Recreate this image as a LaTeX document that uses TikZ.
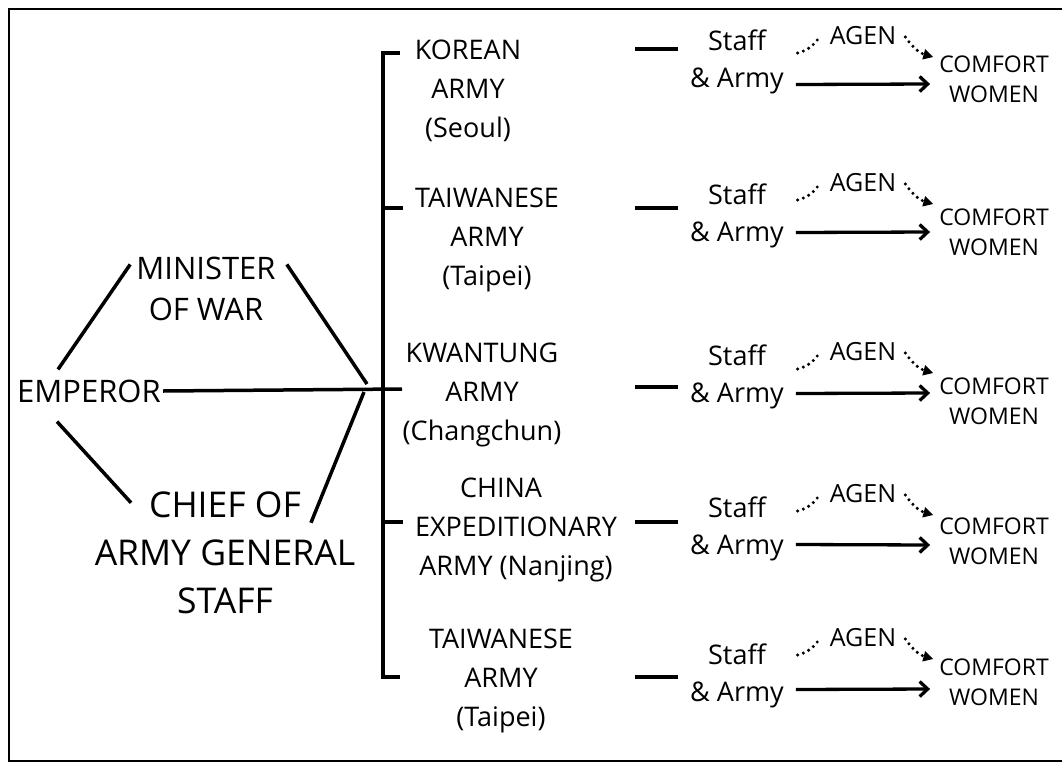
\documentclass[tikz,border=0pt]{standalone}
\usepackage{fontspec}
\setmainfont{Open Sans}
\usetikzlibrary{arrows.meta,calc}
\newcommand\szEmp{\fontsize{31}{41}\selectfont}
\newcommand\szChief{\fontsize{35.5}{48}\selectfont}
\newcommand\szArmy{\fontsize{27}{39}\selectfont}
\newcommand\szStaff{\fontsize{27}{37}\selectfont}
\newcommand\szAgen{\fontsize{25}{30}\selectfont}
\newcommand\szCW{\fontsize{23}{29.5}\selectfont}
\begin{document}
\begin{tikzpicture}[x=1pt,y=-1pt,
  lbl/.style={inner sep=0pt, align=center, text=black},
  conn/.style={line width=3.5pt},
  frameline/.style={line width=2.6pt},
  arr/.style={line width=3.3pt, -{Straight Barb[length=8pt,width=15pt,line width=3.3pt]}},
  dots/.style={line width=3.4pt, line cap=round, dash pattern=on 0pt off 6pt},
  dotarr/.style={dots, -{Triangle[length=10pt,width=10pt]}}]
\useasboundingbox (0,0) rectangle (1062,763);
% frame
\draw[frameline] (1070,9) -- (9,9) -- (9,761) -- (1070,761);

% left part
\node[lbl,font=\szEmp] (emperor) at (89,391) {EMPEROR};
\node[lbl,font=\szEmp] (minister) at (206,288.5) {MINISTER\\OF WAR};
\node[lbl,font=\szChief] (chief) at (225,553) {CHIEF OF\\ARMY GENERAL\\STAFF};

\coordinate (hub) at (383,389);
\coordinate (bt) at (383,53);
\coordinate (b2) at (383,208);
\coordinate (b4) at (383,522);
\coordinate (bb) at (383,677);

\draw[conn] ([shift={(-31,-10)}]emperor.north) -- ([shift={(-6,8)}]minister.north west);
\draw[conn] ([shift={(-32,19)}]emperor.south) -- ([shift={(36.5,11)}]chief.north west);
\draw[conn] ([shift={(11,8)}]minister.north east) -- ([shift={(-16,-5)}]hub);
\draw[conn] ([shift={(-44.5,31)}]chief.north east) -- ([shift={(-19,3)}]hub);
\draw[conn] ([xshift=2pt]emperor.east) -- ([xshift=19pt]hub);

% bracket
\draw[conn] ([xshift=17pt]bt) -- (bt) -- (bb) -- ([xshift=17pt]bb);
\draw[conn] (b2) -- ([xshift=20pt]b2);
\draw[conn] (b4) -- ([xshift=20pt]b4);

% armies
\node[lbl,font=\szArmy] (korean) at (468,90.5) {KOREAN\\ARMY\\(Seoul)};
\node[lbl,font=\szArmy] (taiwanA) at (487,239.5) {TAIWANESE\\ARMY\\(Taipei)};
\node[lbl,font=\szArmy] (kwantung) at (482,395) {KWANTUNG\\ARMY\\(Changchun)};
\node[lbl,font=\szArmy] (china) at (516,530) {CHINA\hspace*{30pt}\\EXPEDITIONARY\\ARMY (Nanjing)};
\node[lbl,font=\szArmy] (taiwanB) at (501,681) {TAIWANESE\\ARMY\\(Taipei)};

% right groups
\foreach \i/\tk/\sa/\ag/\cw/\da/\dc in {1/49/61.5/36/79.5/23/4.5, 2/208/215.5/183/232.5/17/-0.5, 3/387/376.5/352/401.5/17/-8.5, 4/522/528.5/494/541.5/16/3.5, 5/677/675.5/638/682.5/14/6.5}{
  \node[lbl,font=\szStaff] (sa\i) at (737,\sa) {Staff\\\& Army};
  \node[lbl,font=\szAgen] (ag\i) at (863,\ag) {AGEN};
  \node[lbl,font=\szCW] (cw\i) at (994,\cw) {COMFORT\\WOMEN};
  \draw[conn] ([shift={(-55,\tk-\sa)}]sa\i.west) -- ([shift={(-12,\tk-\sa)}]sa\i.west);
  \draw[arr] ([shift={(12,\da)}]sa\i.east) -- ([shift={(-9,\dc)}]cw\i.west);
  \draw[dots] ([shift={(-32,17)}]ag\i.west) to[bend right=20] ([shift={(-11,2)}]ag\i.west);
  \draw[dotarr] ([shift={(9,1)}]ag\i.east) to[bend right=20] ([shift={(37,21)}]ag\i.east);
}
\end{tikzpicture}
\end{document}
